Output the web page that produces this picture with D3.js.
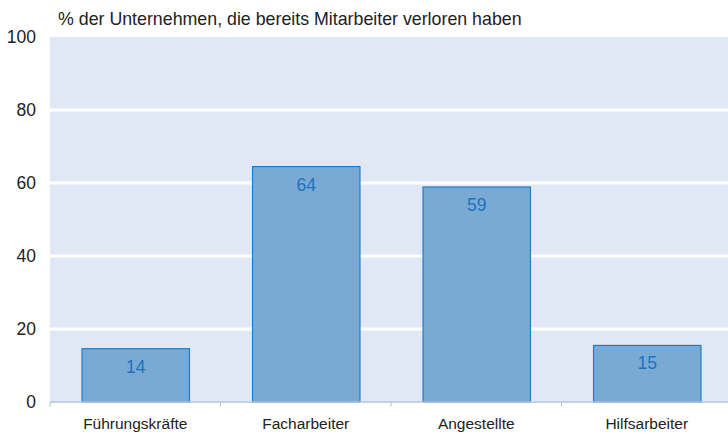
<!DOCTYPE html>
<html><head><meta charset="utf-8">
<script src="https://cdn.jsdelivr.net/npm/d3@7"></script>
<style>body{margin:0;background:#fff;}svg{display:block;font-family:"Liberation Sans",Arial,sans-serif;}</style>
</head><body><svg id="c" width="728" height="435"></svg>
<script>
const categories = ["Führungskräfte", "Facharbeiter", "Angestellte", "Hilfsarbeiter"];
const values = [14.6, 64.5, 58.9, 15.5];
const valueLabels = ["14", "64", "59", "15"];
const yTicks = [0, 20, 40, 60, 80, 100];
const title = "% der Unternehmen, die bereits Mitarbeiter verloren haben";

(function () {
const svg = d3.select("#c");
const pL = 50, pR = 732, pT = 37, pB = 402;
const x = d3.scaleBand().domain(categories).range([pL, pR]).paddingInner(0.37).paddingOuter(0.185);
const y = d3.scaleLinear().domain([0, 100]).range([pB, pT]);

svg.append("rect").attr("x", pL).attr("y", pT).attr("width", pR - pL).attr("height", pB - pT).attr("fill", "#e1e8f5");

svg.append("g").selectAll("line").data(yTicks.filter(d => d > 0 && d < 100)).join("line")
  .attr("x1", pL).attr("x2", pR).attr("y1", d => y(d)).attr("y2", d => y(d))
  .attr("stroke", "#fff").attr("stroke-width", 3);

svg.append("g").selectAll("rect").data(values).join("rect")
  .attr("x", (d, i) => x(categories[i]) + 0.5).attr("y", d => y(d))
  .attr("width", x.bandwidth()).attr("height", d => y(0) - y(d))
  .attr("fill", "#7aaad4").attr("stroke", "#1e7cc8").attr("stroke-width", 1.2);

svg.append("g").selectAll("text").data(values).join("text")
  .attr("x", (d, i) => x(categories[i]) + x.bandwidth() / 2 + 0.5).attr("y", d => y(d) + 24)
  .attr("text-anchor", "middle").attr("font-size", 17.5).attr("fill", "#1a72c0")
  .text((d, i) => valueLabels[i]);

const xa = svg.append("g").attr("transform", `translate(0,${pB})`);
xa.append("line").attr("x1", pL).attr("x2", pR).attr("stroke", "#b4c4dc").attr("stroke-width", 1.5);
const step = x.step();
const edges = d3.range(categories.length + 1).map(i => pL + i * step);
xa.selectAll("line.t").data(edges).join("line").attr("class", "t")
  .attr("x1", d => d).attr("x2", d => d).attr("y1", 0).attr("y2", 5).attr("stroke", "#b4c4dc");
xa.selectAll("text").data(categories).join("text")
  .attr("x", d => x(d) + x.bandwidth() / 2).attr("y", 27)
  .attr("text-anchor", "middle").attr("font-size", 15.5).attr("fill", "#222").text(d => d);

svg.append("g").selectAll("text").data(yTicks).join("text")
  .attr("x", 36).attr("y", d => y(d) + 6).attr("text-anchor", "end")
  .attr("font-size", 17.5).attr("fill", "#222").text(d => d);

svg.append("text").attr("x", 58).attr("y", 25).attr("font-size", 17.8).attr("fill", "#222").text(title);
})();
</script></body></html>
